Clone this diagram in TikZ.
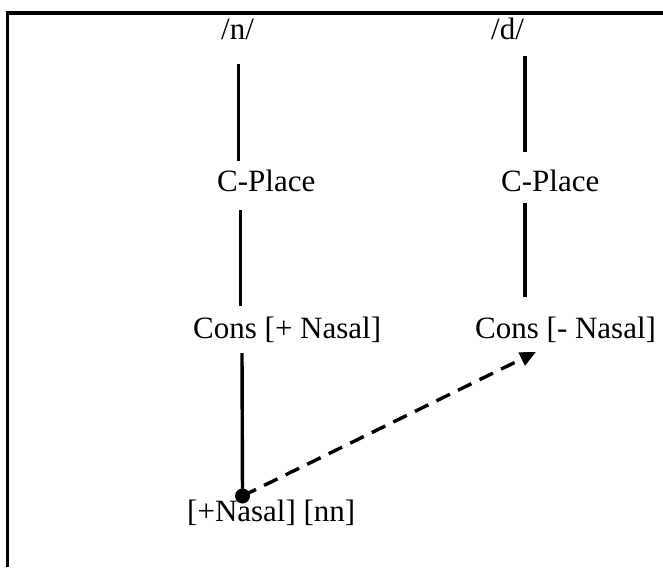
\documentclass[tikz,border=0pt]{standalone}
\usepackage{fontspec}
\setmainfont{Liberation Serif}
\usetikzlibrary{arrows.meta}
\begin{document}
\begin{tikzpicture}[x=1pt,y=-1pt,
  lbl/.style={inner sep=0pt,anchor=base west,font=\fontsize{31}{37}\selectfont},
  tie/.style={line width=3.4pt},
  link/.style={line width=3.4pt,dash pattern=on 15pt off 9pt,-{Triangle[length=16pt,width=14pt]}},
  frameline/.style={line width=3.2pt}]
\useasboundingbox (0,0) rectangle (663,567);
\draw[frameline] (7.5,567) -- (7.5,13) -- (663,13);
% labels
\node[lbl] (n)  at (221,40) {/n/};
\node[lbl] (d)  at (491,40) {/d/};
\node[lbl] (cpL) at (217,191) {C-Place};
\node[lbl] (cpR) at (501,191) {C-Place};
\node[lbl] (consL) at (193,338) {Cons [+ Nasal]};
\node[lbl] (consR) at (475,338) {Cons [- Nasal]};
\node[lbl] (nas) at (187,521) {[+Nasal] [nn]};
\node[circle,fill,inner sep=0pt,minimum size=15pt] (dot) at (242.5,496) {};
% connector end points
\coordinate (l1a) at (238.5,64);  \coordinate (l1b) at (238.5,161);
\coordinate (l2a) at (240.7,210); \coordinate (l2b) at (240.7,306);
\coordinate (l3a) at (242,353);
\coordinate (r1a) at (525,56);    \coordinate (r1b) at (525,152);
\coordinate (r2a) at (525,203);   \coordinate (r2b) at (525,297);
\coordinate (tip) at (536,352);
\draw[tie] (l1a) -- (l1b);
\draw[tie] (l2a) -- (l2b);
\draw[tie] (l3a) -- (dot.center);
\draw[tie] (r1a) -- (r1b);
\draw[tie] (r2a) -- (r2b);
\draw[link] (dot.center) -- (tip);
\end{tikzpicture}
\end{document}
